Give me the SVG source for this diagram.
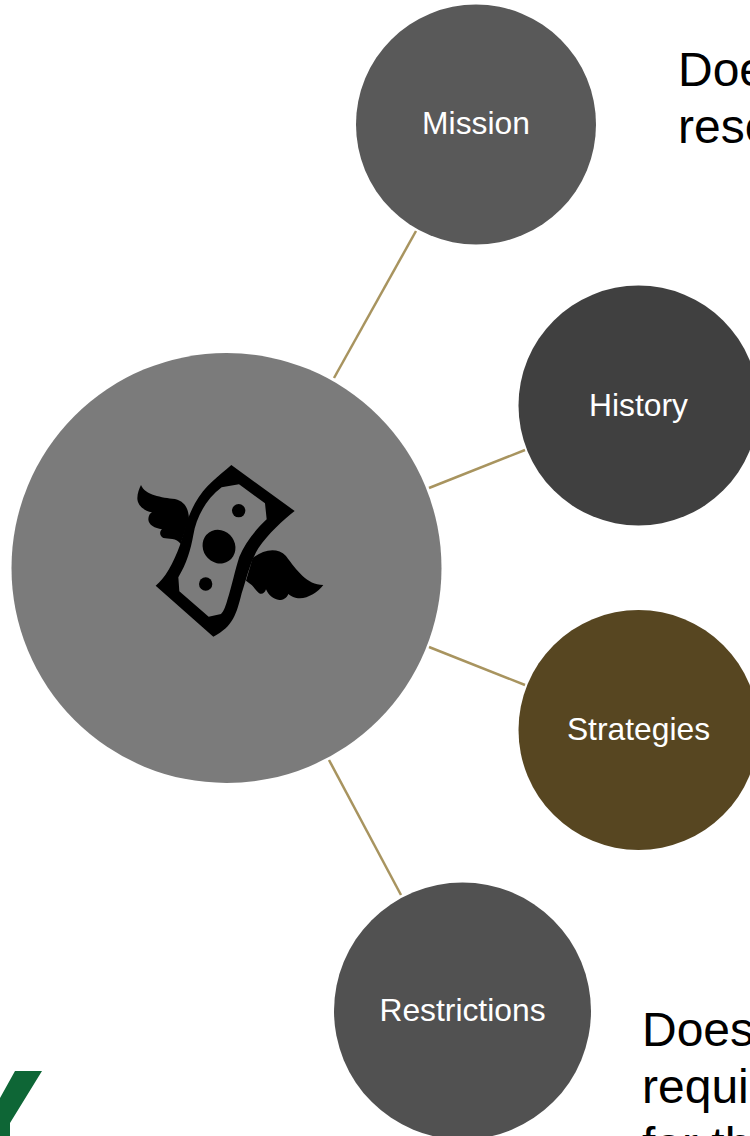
<svg xmlns="http://www.w3.org/2000/svg" width="750" height="1136" viewBox="0 0 750 1136">
<style>
.lbl{font-family:"Liberation Sans",Arial,sans-serif;font-size:31.8px;fill:#fff;text-anchor:middle}
.side{font-family:"Liberation Sans",Arial,sans-serif;font-size:48px;fill:#000}
.conn{stroke:#a8945f;stroke-width:2.5;fill:none}
</style>
<rect width="750" height="1136" fill="#fff"/>
<path id="logo" d="M15 1071H42L10 1123V1136H0V1098Z" fill="#0e6636"/>
<g id="connectors">
<line class="conn" x1="334" y1="378" x2="416" y2="231"/>
<line class="conn" x1="429" y1="488" x2="525" y2="450"/>
<line class="conn" x1="429" y1="647" x2="525" y2="685"/>
<line class="conn" x1="329" y1="760" x2="401" y2="895"/>
</g>
<g id="center">
<circle cx="226.5" cy="568" r="215" fill="#7b7b7b"/>
<g id="icon" fill="#000" transform="translate(120 450) scale(.33333)">
<path fill-rule="evenodd" d="M334 45L524 183C490 210 445 250 415 295C390 335 380 385 365 430C350 490 340 530 280 560L107 407C135 385 160 340 180 285C195 240 200 205 225 160C255 105 295 80 334 45ZM305 112L357 103L435 160L440 208C405 240 375 280 358 320C345 360 335 410 322 450C315 475 310 485 303 492L266 500L178 424L175 382C200 340 212 300 220 255C228 205 255 150 305 112Z"/>
<ellipse cx="297" cy="290" rx="48" ry="52" transform="rotate(-35 297 290)"/>
<circle cx="356" cy="182" r="20"/>
<circle cx="257" cy="402" r="20"/>
<path d="M63 105C75 135 125 143 165 147C195 155 205 175 207 205L182 282C170 262 145 268 130 264C118 258 118 245 126 238C105 235 85 225 85 208C85 198 90 190 96 187C70 182 52 165 52 145C52 130 58 115 63 105Z"/>
<path d="M398 324C430 300 470 290 498 318C530 360 560 405 610 405C595 425 565 445 540 445C525 445 512 438 505 432C500 445 490 450 478 450C460 448 445 435 438 418C435 428 428 433 420 431C412 428 402 412 395 405L378 392Z"/>
</g>
</g>
<g id="mission"><circle cx="476" cy="124.5" r="120" fill="#595959"/><text class="lbl" x="476" y="134">Mission</text></g>
<g id="history"><circle cx="638.5" cy="405.5" r="120" fill="#404040"/><text class="lbl" x="638.5" y="416">History</text></g>
<g id="strategies"><circle cx="638.5" cy="730" r="120" fill="#574621"/><text class="lbl" x="638.5" y="740">Strategies</text></g>
<g id="restrictions"><circle cx="462.5" cy="1011" r="128.5" fill="#515151"/><text class="lbl" x="462.5" y="1021">Restrictions</text></g>
<text class="side" x="678" y="85.5">Doe</text>
<text class="side" x="678" y="142.5">rese</text>
<text class="side" x="642" y="1046">Does</text>
<text class="side" x="642" y="1103">requi</text>
<text class="side" x="642" y="1161">for th</text>
</svg>
